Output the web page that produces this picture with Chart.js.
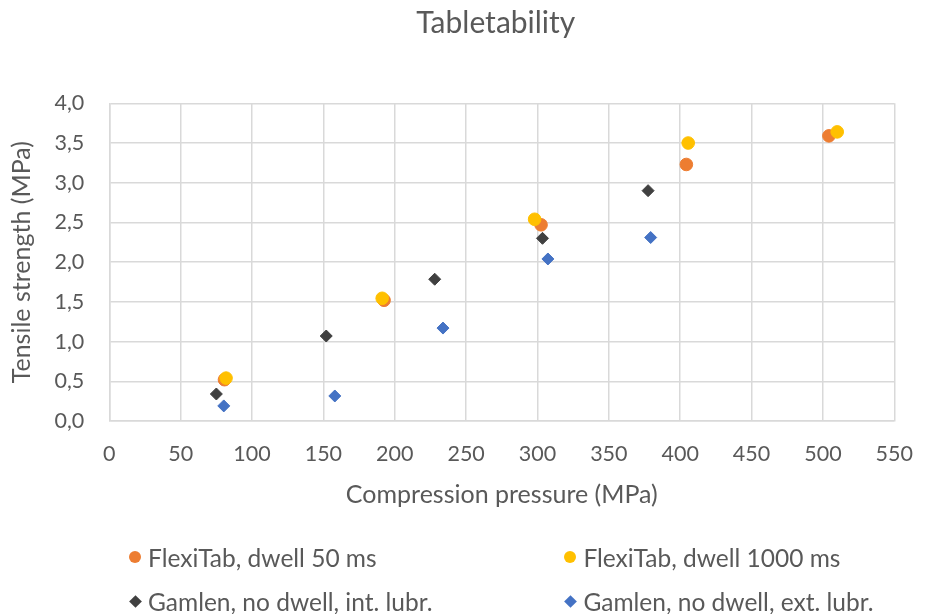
<!DOCTYPE html>
<html>
<head>
<meta charset="utf-8">
<title>Tabletability</title>
<script src="https://cdn.jsdelivr.net/npm/chart.js@4/dist/chart.umd.min.js"></script>
<style>
  html, body { margin: 0; padding: 0; background: #ffffff; }
  #wrap { position: relative; width: 933px; height: 614px; }
  #chart { position: absolute; left: 0; top: 0; }
  .legend-item { position: absolute; display: flex; align-items: center; height: 30px;
                 font-family: Lato, "Open Sans", sans-serif; font-size: 24.5px; color: #595959; white-space: nowrap; }
  .legend-mark { display: inline-block; width: 12px; height: 12px; margin-right: 7px; flex: none; }
  .legend-mark.circle { border-radius: 50%; }
  .legend-mark.diamond { width: 9px; height: 9px; margin: 0 8.5px 0 1.5px; transform: rotate(45deg); }
</style>
</head>
<body>
<div id="wrap">
  <canvas id="chart" width="933" height="614"></canvas>
</div>
<script>
// Series: compression pressure (MPa) vs tensile strength (MPa)
const seriesNames = [
  'FlexiTab, dwell 50 ms',
  'FlexiTab, dwell 1000 ms',
  'Gamlen, no dwell, int. lubr.',
  'Gamlen, no dwell, ext. lubr.'
];
const flexi50Pressure   = [80.7, 192.5, 302.5, 404.3, 504.2];
const flexi50Strength   = [0.52, 1.52, 2.47, 3.23, 3.59];
const flexi1000Pressure = [81.8, 191.2, 298.0, 405.6, 510.0];
const flexi1000Strength = [0.54, 1.545, 2.54, 3.50, 3.64];
const gamlenIntPressure = [75.0, 152.0, 228.0, 303.5, 377.5];
const gamlenIntStrength = [0.34, 1.07, 1.785, 2.30, 2.90];
const gamlenExtPressure = [80.2, 158.0, 233.8, 307.3, 379.3];
const gamlenExtStrength = [0.19, 0.315, 1.17, 2.04, 2.31];

const seriesColors = ['#ED7D31', '#FFC000', '#404040', '#4472C4'];
const seriesShapes = ['circle', 'circle', 'rectRot', 'rectRot'];

const xMax = 550, xStep = 50;
const yMax = 4, yStep = 0.5;

const FONT = 'Lato, "Open Sans", sans-serif';
const TEXT = '#595959';
const GRID = '#d9d9d9';

function pairs(xs, ys) { return xs.map((x, i) => ({ x: x, y: ys[i] })); }

const seriesData = [
  pairs(flexi50Pressure, flexi50Strength),
  pairs(flexi1000Pressure, flexi1000Strength),
  pairs(gamlenIntPressure, gamlenIntStrength),
  pairs(gamlenExtPressure, gamlenExtStrength)
];

const datasets = seriesNames.map((name, i) => ({
  label: name,
  data: seriesData[i],
  pointStyle: seriesShapes[i],
  pointRadius: seriesShapes[i] === 'circle' ? 6.3 : 6,
  pointHoverRadius: 7,
  pointBorderWidth: 1,
  backgroundColor: seriesColors[i],
  borderColor: seriesColors[i],
  showLine: false,
  order: seriesNames.length - i   // later series are painted on top
}));

// Keep the title centred over the plot rather than over the whole canvas
const titleOverPlot = {
  id: 'titleOverPlot',
  afterLayout(chart) {
    const t = chart.titleBlock;
    const mid = (chart.chartArea.left + chart.chartArea.right) / 2 - 6;
    const half = Math.min(mid, t.right - mid);
    t.left = mid - half;
    t.right = mid + half;
  }
};

new Chart(document.getElementById('chart'), {
  type: 'scatter',
  data: { datasets: datasets },
  plugins: [titleOverPlot],
  options: {
    responsive: false,
    animation: false,
    layout: { padding: { left: 0, right: 23.5, top: 5, bottom: 104 } },
    plugins: {
      legend: { display: false },
      tooltip: { enabled: false },
      title: {
        display: true,
        text: 'Tabletability',
        color: TEXT,
        font: { family: FONT, size: 30, weight: 'normal' },
        padding: { top: 0, bottom: 62.3 }
      }
    },
    scales: {
      x: {
        type: 'linear',
        min: 0, max: xMax,
        afterFit(scale) { scale.height = 89; },
        ticks: { stepSize: xStep, color: TEXT, padding: 20, font: { family: FONT, size: 21.5 } },
        grid: { color: GRID, lineWidth: 1.5, drawTicks: false },
        border: { color: GRID, width: 1.5 },
        title: {
          display: true,
          text: 'Compression pressure (MPa)',
          color: TEXT,
          font: { family: FONT, size: 25 },
          padding: { top: 1, bottom: 0 }
        }
      },
      y: {
        type: 'linear',
        min: 0, max: yMax,
        afterFit(scale) { scale.width = 109.3; },
        ticks: {
          stepSize: yStep, color: TEXT, padding: 25, font: { family: FONT, size: 21.5 },
          callback: v => v.toFixed(1).replace('.', ',')
        },
        grid: { color: GRID, lineWidth: 1.5, drawTicks: false },
        border: { color: GRID, width: 1.5 },
        title: {
          display: true,
          text: 'Tensile strength (MPa)',
          color: TEXT,
          font: { family: FONT, size: 25 },
          padding: { top: 7, bottom: 0 }
        }
      }
    }
  }
});

// Two-column legend under the chart, built from the series definitions
const legendSlots = [
  { left: 129, top: 542 }, { left: 564.4, top: 542 },
  { left: 129, top: 586 }, { left: 564.4, top: 586 }
];
const wrap = document.getElementById('wrap');
seriesNames.forEach((name, i) => {
  const item = document.createElement('div');
  item.className = 'legend-item';
  item.style.left = legendSlots[i].left + 'px';
  item.style.top = legendSlots[i].top + 'px';
  const mark = document.createElement('span');
  mark.className = 'legend-mark ' + (seriesShapes[i] === 'circle' ? 'circle' : 'diamond');
  mark.style.background = seriesColors[i];
  const label = document.createElement('span');
  label.textContent = name;
  item.appendChild(mark);
  item.appendChild(label);
  wrap.appendChild(item);
});
</script>
</body>
</html>
